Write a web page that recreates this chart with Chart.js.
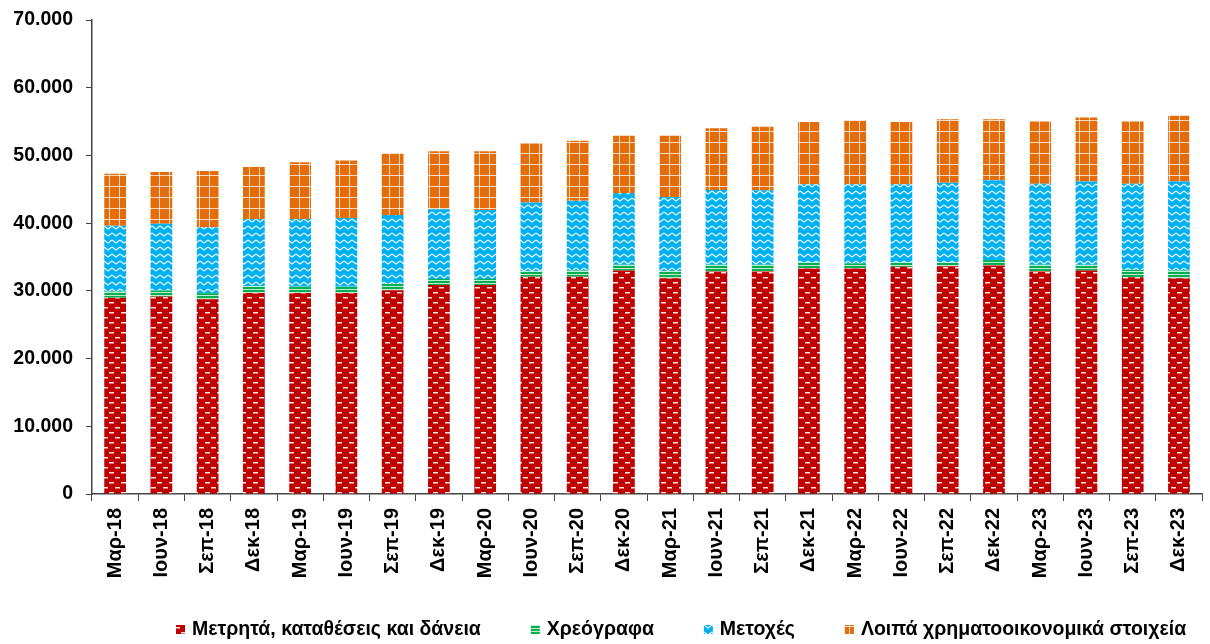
<!DOCTYPE html>
<html>
<head>
<meta charset="utf-8">
<script src="https://cdn.jsdelivr.net/npm/chart.js@4.4.1/dist/chart.umd.min.js"></script>
<style>
  html, body { margin: 0; padding: 0; background: #fff; overflow: hidden; }
</style>
</head>
<body>
<canvas id="grafica" width="1210" height="644"></canvas>
<script>
// datos del grafico
const periodos = ['Μαρ-18','Ιουν-18','Σεπ-18','Δεκ-18','Μαρ-19','Ιουν-19','Σεπ-19','Δεκ-19',
  'Μαρ-20','Ιουν-20','Σεπ-20','Δεκ-20','Μαρ-21','Ιουν-21','Σεπ-21','Δεκ-21',
  'Μαρ-22','Ιουν-22','Σεπ-22','Δεκ-22','Μαρ-23','Ιουν-23','Σεπ-23','Δεκ-23']
const nombres = ['Μετρητά, καταθέσεις και δάνεια', 'Χρεόγραφα', 'Μετοχές', 'Λοιπά χρηματοοικονομικά στοιχεία']
const metrita = [29000,29150,28750,29700,29700,29700,30100,30850,30850,32100,32100,33000,
  31850,32850,32850,33300,33300,33550,33650,33750,32850,33000,32000,31850]
const xreografa = [900,900,900,1000,900,900,950,900,900,800,900,850,
  1100,1000,1000,900,750,650,550,800,1000,850,1100,1150]
const metoxes = [9700,9850,9750,9900,10000,10150,10150,10300,10200,10150,10300,10600,
  10900,11050,11000,11550,11700,11550,11750,11800,11950,12300,12700,13150]
const loipa = [7700,7650,8300,7700,8400,8500,9150,8550,8650,8700,8850,8450,
  9050,9100,9400,9200,9450,9200,9400,9000,9200,9450,9200,9700]
const ticksY = [0,10000,20000,30000,40000,50000,60000,70000]

const fuente = '"Liberation Sans", Arial, sans-serif'

// patrones de relleno
function tile(w, h, dibujar) {
  const c = document.createElement('canvas')
  c.width = w; c.height = h
  const g = c.getContext('2d')
  dibujar(g)
  return document.getElementById('grafica').getContext('2d').createPattern(c, 'repeat')
}

const patRojo = tile(12, 10, g => {
  g.fillStyle = '#C00000'; g.fillRect(0, 0, 12, 10)
  g.fillStyle = 'rgba(255,255,255,0.9)'
  g.fillRect(1, 2, 5, 1.5)
  g.fillRect(7, 7, 5, 1.5)
})
const patVerde = tile(4, 3, g => {
  g.fillStyle = '#00B050'; g.fillRect(0, 0, 4, 3)
  g.fillStyle = 'rgba(255,255,255,0.75)'; g.fillRect(0, 1, 4, 1)
})
const patAzul = tile(8, 7, g => {
  g.fillStyle = '#00B0F0'; g.fillRect(0, 0, 8, 7)
  g.strokeStyle = 'rgba(255,255,255,0.9)'; g.lineWidth = 1.2
  g.beginPath(); g.moveTo(0, 2); g.lineTo(4, 5); g.lineTo(8, 2); g.stroke()
})
const patNaranja = tile(10, 11, g => {
  g.fillStyle = '#E46C0A'; g.fillRect(0, 0, 10, 11)
  g.fillStyle = 'rgba(255,255,255,0.75)'
  g.fillRect(9, 0, 1, 11)
  g.fillRect(0, 10, 10, 1)
})

// leyenda abajo dibujada a mano
const leyenda = {
  id: 'leyenda',
  afterDraw(chart) {
    const ctx = chart.ctx
    ctx.save()
    ctx.font = 'bold 19.5px ' + fuente
    ctx.textBaseline = 'middle'
    let x = 176
    const y = 630
    chart.data.datasets.forEach(ds => {
      ctx.fillStyle = ds.backgroundColor
      ctx.fillRect(x, y - 5, 9, 9)
      ctx.fillStyle = '#000'
      ctx.fillText(ds.label, x + 16, y)
      x += 16 + ctx.measureText(ds.label).width + 50
    })
    ctx.restore()
  }
}

const formato = v => String(v).replace(/\B(?=(\d{3})+(?!\d))/g, '.')

new Chart(document.getElementById('grafica'), {
  type: 'bar',
  data: {
    labels: periodos,
    datasets: [
      { label: nombres[0], data: metrita, backgroundColor: patRojo },
      { label: nombres[1], data: xreografa, backgroundColor: patVerde },
      { label: nombres[2], data: metoxes, backgroundColor: patAzul },
      { label: nombres[3], data: loipa, backgroundColor: patNaranja }
    ]
  },
  options: {
    responsive: false,
    animation: false,
    layout: { padding: { top: 20, right: 2, left: 0, bottom: 0 } },
    datasets: { bar: { categoryPercentage: 1, barPercentage: 0.47 } },
    plugins: { legend: { display: false }, tooltip: { enabled: false } },
    scales: {
      x: {
        stacked: true,
        grid: { drawOnChartArea: false, tickLength: 7, color: '#444', offset: true },
        border: { color: '#444', width: 1.5 },
        ticks: { autoSkip: false, minRotation: 90, maxRotation: 90, padding: 7, color: '#000',
          font: { family: fuente, size: 20, weight: 'bold' } },
        afterFit: s => { s.height = 150; s.paddingTop = 0 }
      },
      y: {
        stacked: true,
        min: 0, max: 70000,
        afterBuildTicks: s => { s.ticks = ticksY.map(v => ({ value: v })) },
        grid: { drawOnChartArea: false, tickLength: 6, color: '#444' },
        border: { color: '#444', width: 1.5 },
        ticks: { padding: 13, color: '#000', callback: formato,
          font: { family: fuente, size: 19.5, weight: 'bold' } },
        afterFit: s => { s.width = 92; s.paddingTop = 0 }
      }
    }
  },
  plugins: [leyenda]
})
</script>
</body>
</html>
